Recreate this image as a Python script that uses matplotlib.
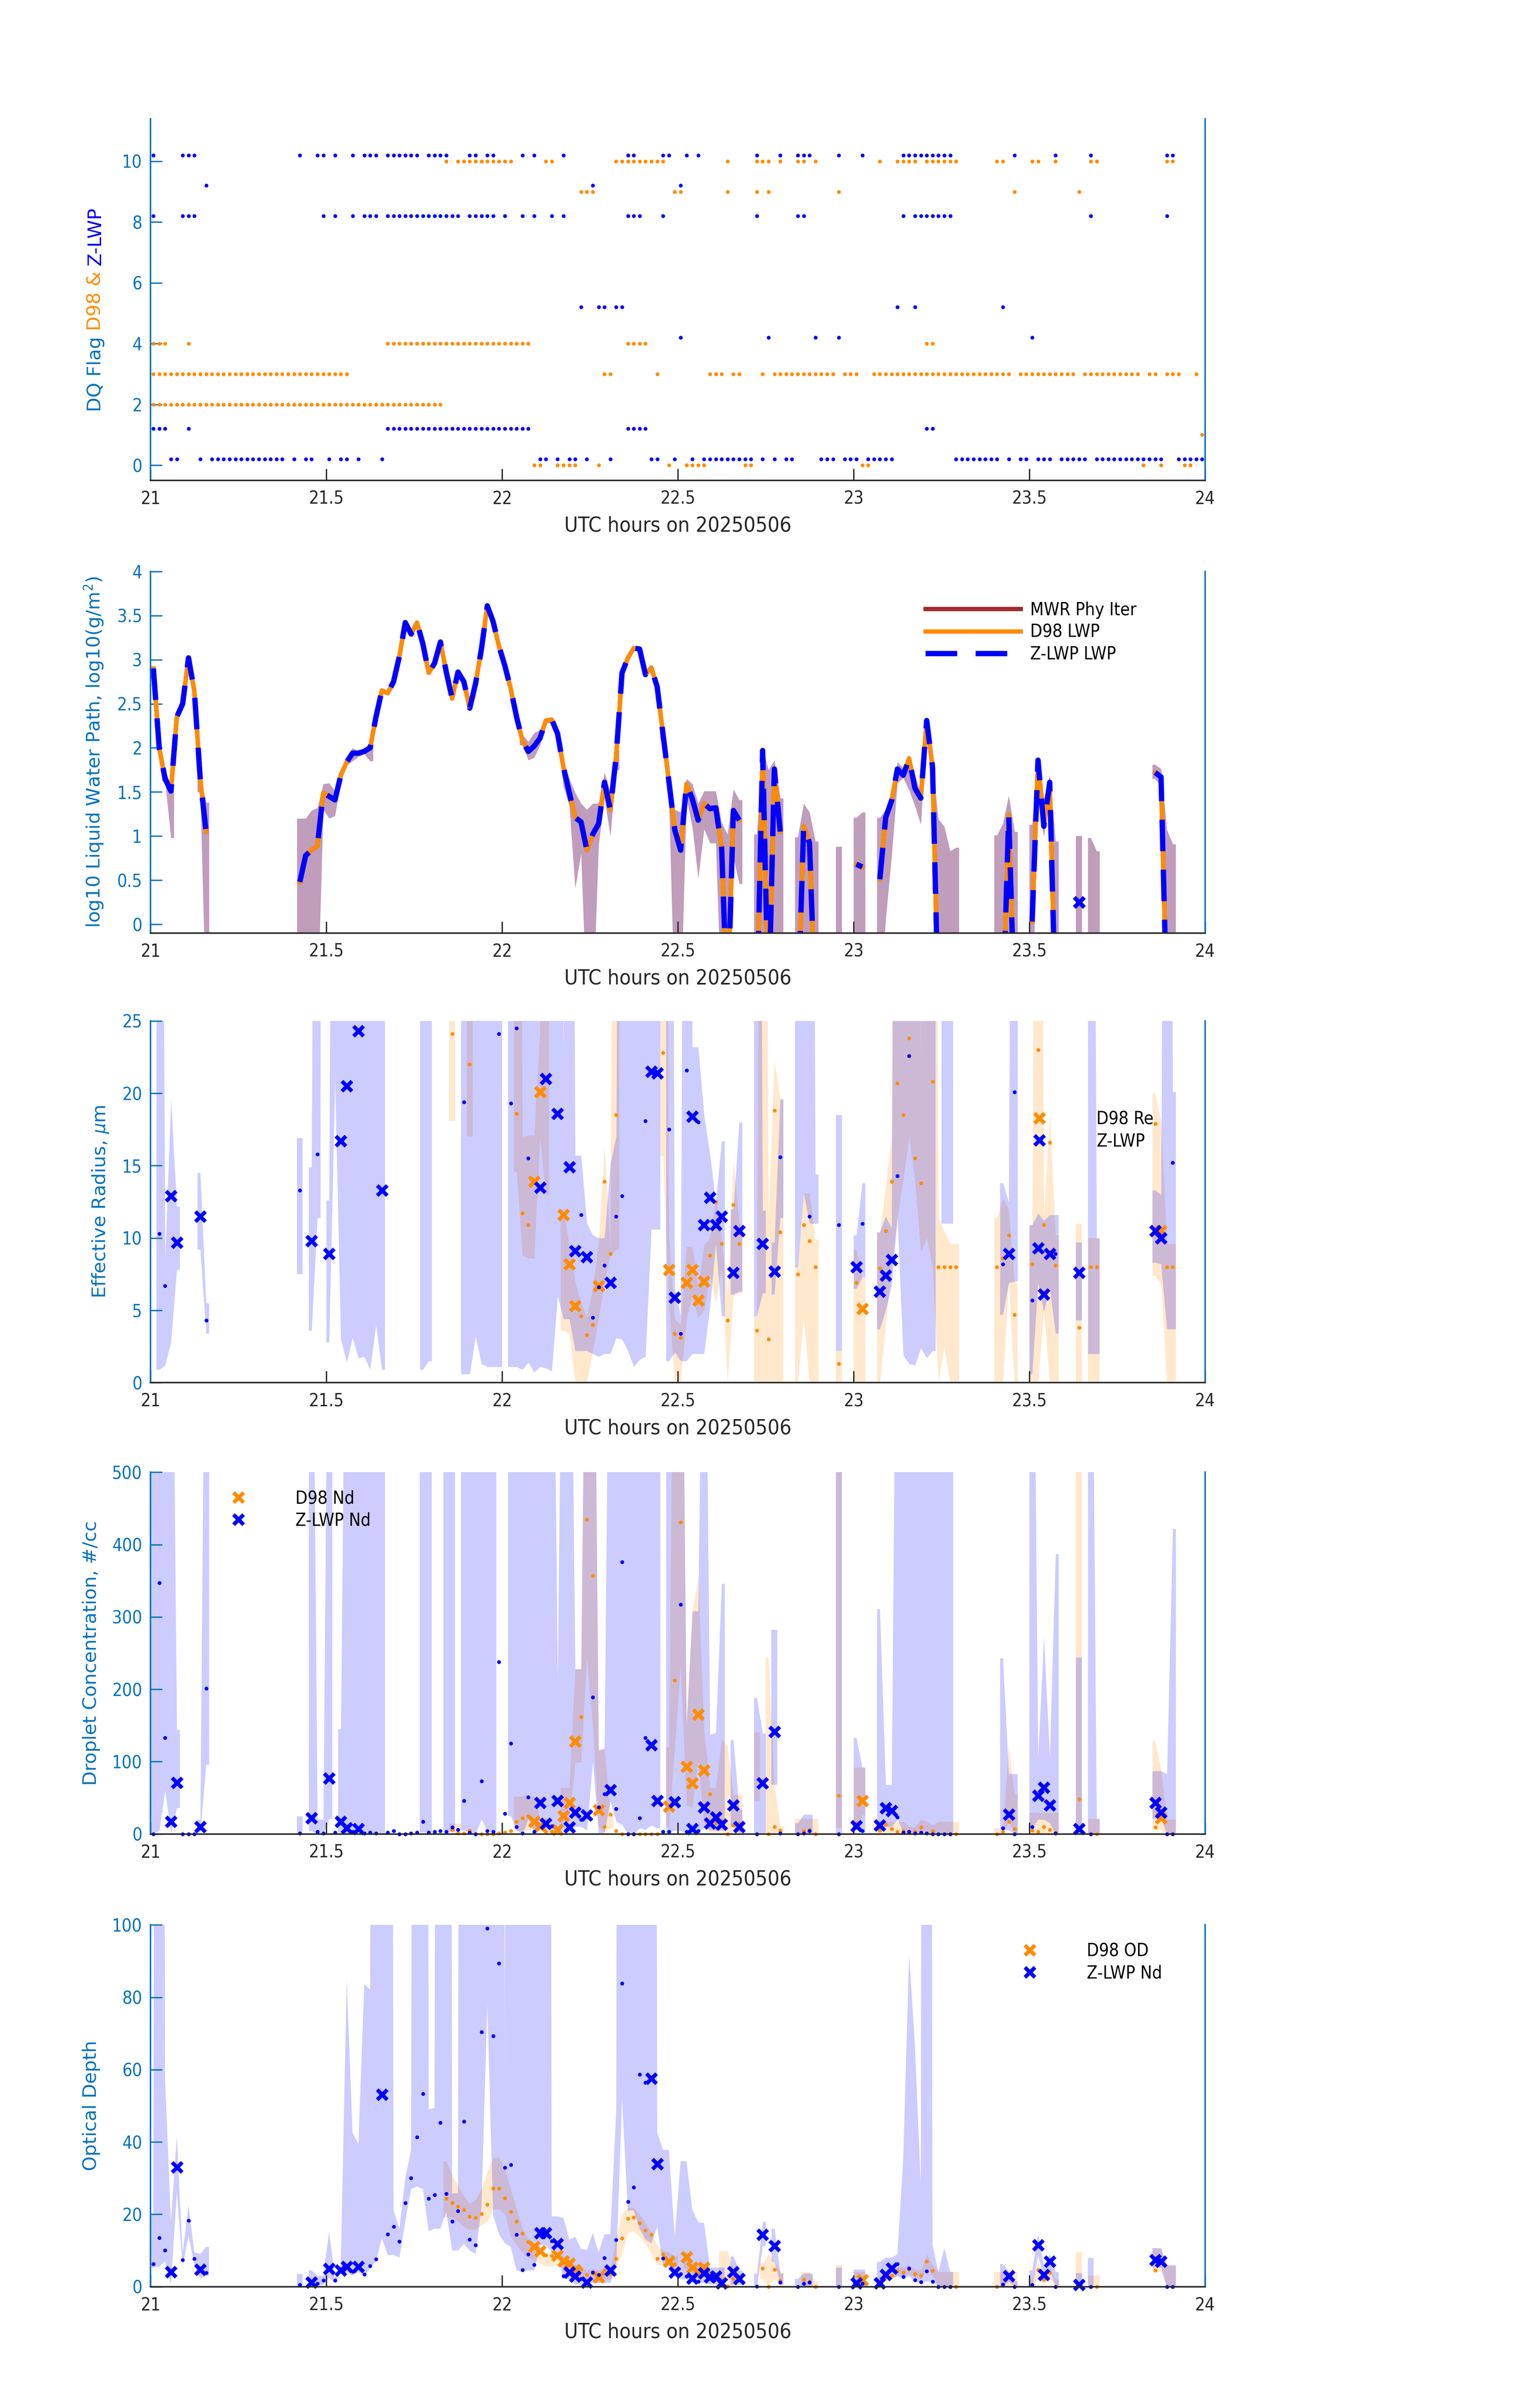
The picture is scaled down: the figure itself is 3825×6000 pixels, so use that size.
import numpy as np
import matplotlib
matplotlib.use("Agg")
import matplotlib.pyplot as plt
from matplotlib import font_manager
from matplotlib.lines import Line2D
from matplotlib.ticker import FuncFormatter

BLUE = "#0000FF"
ORANGE = "#FF8C00"
BROWN = "#A52A2A"
AXBLUE = "#0072BD"
DARK = "#262626"
N = None

# one sample per minute, k = 0..179  ->  21 + (k + 0.5)/60 UTC hours

# DQ flags: minute indices where each flag value is set
d98_flag0 = [65, 66, 69, 70, 71, 72, 76, 88, 91, 92, 93, 94, 101, 102, 121, 122, 169, 172, 176, 177]
d98_flag1 = [179]
d98_flag2 = [*range(0, 50)]
d98_flag3 = [*range(0, 34), 77, 78, 86, 95, 96, 97, 99, 100, 104, *range(106, 117), 118, 119, 120,
             *range(123, 147), *range(148, 158), *range(159, 169), 170, 171, 173, 174, 175, 178]
d98_flag4 = [0, 1, 2, 6, *range(40, 65), 81, 82, 83, 84, 132, 133]
d98_flag9 = [73, 74, 75, 89, 90, 98, 103, 105, 117, 147, 158]
d98_flag10 = [50, *range(52, 62), 67, 68, *range(79, 88), 98, 103, 104, 105, 107, 110, 111, 113, 124,
              127, 128, 129, 130, *range(132, 138), 144, 145, 150, 151, 154, 160, 161, 173, 174]

zlwp_flag0 = [3, 4, 8, *range(10, 23), 24, 26, 27, 30, 32, 33, 35, 39, 66, 67, 69, 71, 72, 74, 78, 85,
              86, 89, 92, *range(94, 103), 104, 106, 108, 109, 114, 115, 116, 118, 119, 120,
              *range(122, 127), *range(137, 145), 146, 148, 149, 151, 152, 153, *range(155, 160),
              *range(161, 173), *range(175, 180)]
zlwp_flag1 = [0, 1, 2, 6, *range(40, 65), 81, 82, 83, 84, 132, 133]
zlwp_flag4 = [90, 105, 113, 117, 150]
zlwp_flag5 = [73, 76, 77, 79, 80, 127, 130, 145]
zlwp_flag8 = [0, 5, 6, 7, 29, 31, 34, 36, 37, 38, *range(40, 53), 54, 55, 56, 57, 58, 60, 63, 65, 68,
              70, 81, 82, 83, 87, 103, 110, 111, 128, *range(130, 137), 160, 173]
zlwp_flag9 = [9, 75, 90]
zlwp_flag10 = [0, 5, 6, 7, 25, 28, 29, 31, 34, 36, 37, 38, *range(40, 46), 47, 48, 49, 50, 54, 55, 57,
               58, 63, 65, 70, 81, 82, 87, 88, 91, 93, 103, 107, 110, 111, 112, 117, 121,
               *range(128, 137), 147, 154, 160, 173, 174]

# log10 LWP: (minute, value, band low, band high)
lwp = [
    (0, 2.90, N, N), (1, 2.00, N, N), (2, 1.65, 1.62, 1.75), (3, 1.51, 0.98, 1.58),
    (4, 2.35, N, N), (5, 2.50, N, N), (6, 3.02, N, N), (7, 2.64, N, N),
    (8, 1.65, 1.50, 1.68), (9, 1.05, -1, 1.38),
    (25, 0.48, -1, 1.20), (26, 0.78, -1, 1.20), (27, 0.84, -1, 1.29), (28, 0.89, -1, 1.32),
    (29, 1.49, 1.30, 1.59), (30, 1.45, 1.20, 1.60), (31, 1.41, 1.23, 1.51), (32, 1.69, 1.62, 1.72),
    (33, 1.84, 1.80, 1.90), (34, 1.94, 1.85, 2.00), (35, 1.94, 1.90, 1.96), (36, 1.96, 1.93, 1.98),
    (37, 2.00, 1.85, 2.07), (38, 2.35, N, N), (39, 2.65, N, N), (40, 2.62, N, N),
    (41, 2.75, N, N), (42, 3.04, N, N), (43, 3.42, N, N), (44, 3.29, N, N), (45, 3.42, N, N),
    (46, 3.18, N, N), (47, 2.85, N, N), (48, 2.96, N, N), (49, 3.20, N, N), (50, 2.86, N, N),
    (51, 2.56, N, N), (52, 2.86, N, N), (53, 2.75, N, N), (54, 2.45, N, N), (55, 2.73, N, N),
    (56, 3.12, N, N), (57, 3.61, N, N), (58, 3.43, N, N), (59, 3.15, N, N), (60, 2.93, N, N),
    (61, 2.67, N, N), (62, 2.35, N, N), (63, 2.08, 2.03, 2.15), (64, 1.96, 1.86, 2.07),
    (65, 2.02, 1.89, 2.17), (66, 2.11, 2.03, 2.20), (67, 2.31, 2.28, 2.34), (68, 2.32, 2.28, 2.34),
    (69, 2.16, 2.10, 2.20), (70, 1.78, 1.56, 1.84), (71, 1.49, 1.34, 1.65), (72, 1.21, 0.41, 1.49),
    (73, 1.16, 0.80, 1.37), (74, 0.84, -1, 1.30), (75, 1.02, -1, 1.37), (76, 1.14, 0.90, 1.37),
    (77, 1.61, 1.43, 1.72), (78, 1.30, 1.00, 1.50), (79, 1.91, 1.75, 1.97), (80, 2.85, N, N),
    (81, 3.02, N, N), (82, 3.13, N, N), (83, 3.12, N, N), (84, 2.83, N, N),
    (85, 2.91, N, N), (86, 2.69, N, N), (87, 2.15, 2.10, 2.20), (88, 1.62, 1.40, 1.68),
    (89, 1.07, -1, 1.30), (90, 0.84, -1, 1.27), (91, 1.59, 1.43, 1.65), (92, 1.42, 1.10, 1.59),
    (93, 1.18, 0.52, 1.37), (94, 1.37, 1.08, 1.51), (95, 1.31, 0.92, 1.51), (96, 1.32, 0.92, 1.51),
    (97, 0.87, -1, 1.15), (98, -1, -1, 1.02), (99, 1.29, 0.76, 1.53), (100, 1.18, 0.46, 1.41),
    (103, -1, -1, 1.02), (104, 1.97, -1, 2.00), (105, -1, -1, 1.75), (106, 1.76, -1, 1.86),
    (107, 1.05, -1, 1.43), (110, -1, -1, 0.99), (111, 1.11, -1, 1.37), (112, 0.92, -1, 1.27),
    (113, -1, -1, 0.94), (117, N, -1, 0.88), (120, 0.68, -1, 1.21), (121, 0.65, -1, 1.27),
    (124, 0.51, -1, 1.21), (125, 1.21, 0.06, 1.30), (126, 1.40, 0.76, 1.46), (127, 1.76, 1.60, 1.84),
    (128, 1.69, 1.66, 1.77), (129, 1.88, 1.52, 1.92), (130, 1.54, 1.34, 1.69), (131, 1.43, 1.13, 1.49),
    (132, 2.31, 2.23, 2.33), (133, 1.78, 1.59, 1.80), (134, -1, -1, 1.19), (135, N, -1, 1.11),
    (136, N, -1, 0.83), (137, N, -1, 0.87), (144, N, -1, 1.01), (145, -1, -1, 1.14),
    (146, 1.24, -1, 1.46), (147, -1, -1, 1.05), (150, 0.03, -1, 1.13), (151, 1.86, 1.40, 1.91),
    (152, 1.11, 0.99, 1.43), (153, 1.61, 1.50, 1.69), (154, -1, -1, 0.94), (158, 0.25, -1, 1.00),
    (160, N, -1, 0.98), (161, N, -1, 0.83), (171, 1.72, 1.65, 1.81), (172, 1.67, 1.56, 1.76),
    (173, -1, -1, 1.07), (174, N, -1, 0.91),
]

# effective radius (um): (minute, value, band low, band high)
re_z = [
    (1, 10.3, 0.9, 99), (2, 6.7, 1.2, 8.5), (3, 12.9, 2.8, 19.6), (4, 9.7, 7.8, 12.2),
    (8, 11.5, 9.2, 14.5), (9, 4.3, 3.4, 5.5),
    (25, 13.3, 7.5, 16.9), (27, 9.8, 3.6, 14.9), (28, 15.8, 11.4, 99),
    (30, 8.9, 2.8, 12.6), (31, N, 20.9, 99), (32, 16.7, 3.0, 99), (33, 20.5, 1.4, 99),
    (34, N, 3.1, 99), (35, 24.3, 1.7, 99), (36, N, 1.8, 99), (37, N, 0.9, 99),
    (38, N, 4.0, 99), (39, 13.3, 0.9, 99), (46, N, 0.9, 99), (47, N, 1.5, 99),
    (53, 19.4, 0.6, 99), (54, N, 0.6, 99), (55, N, 3.2, 99), (56, N, 1.3, 99),
    (57, N, 1.1, 99), (58, N, 1.1, 99), (59, 24.1, 1.1, 99),
    (61, 19.3, 1.1, 99), (62, 24.5, 1.1, 99), (63, N, 0.9, 99), (64, 15.5, 1.4, 99),
    (65, N, 0.7, 99), (66, 13.5, 1.1, 99), (67, 21.0, 1.0, 99), (68, N, 0.8, 99),
    (69, 18.6, 6.0, 99), (70, N, 4.4, 22.8), (71, 14.9, 4.4, 99), (72, 9.1, 2.2, 15.7),
    (73, 11.6, 2.2, 15.7), (74, 8.7, 2.2, 11.0), (75, 4.5, 2.0, 10.2), (76, 6.6, 1.8, 10.0),
    (77, 8.1, 2.0, 10.0), (78, 6.9, 2.0, 15.1), (79, 11.5, 3.1, 17.0), (80, 12.9, 3.0, 99),
    (81, N, 2.2, 99), (82, N, 1.1, 99), (83, N, 1.6, 99), (84, 18.1, 1.8, 99),
    (85, 21.5, 10.6, 99), (86, 21.4, 10.6, 99), (88, 17.5, 1.5, 99), (89, 5.9, 2.1, 6.5),
    (90, 3.4, 1.5, 4.6), (91, 21.6, 1.5, 99), (92, 18.4, 2.0, 23.2), (93, 18.0, 2.0, 23.2),
    (94, 10.9, 2.0, 18.5), (95, 12.8, 5.2, 15.8), (96, 10.9, 9.6, 12.5), (97, 11.5, 4.6, 16.7),
    (99, 7.6, 6.1, 12.0), (100, 10.5, 6.3, 18.0),
    (103, N, 4.6, 99), (104, 9.6, 6.2, 11.9), (106, 7.7, 6.1, 9.7), (107, 15.6, 11.4, 19.6),
    (110, N, 8.0, 99), (111, N, 13.1, 99), (112, 11.5, 11.0, 99), (113, N, 11.0, 14.4),
    (117, 10.9, 2.2, 18.5), (120, 8.0, 6.5, 10.2), (121, 11.0, 7.3, 13.8),
    (124, 6.3, 3.7, 10.4), (125, 7.4, 5.0, 11.5), (126, 8.5, 6.7, 10.7), (127, 14.3, 11.4, 99),
    (128, N, 1.9, 99), (129, 22.6, 1.3, 99), (130, N, 1.2, 99), (131, N, 2.4, 99),
    (132, N, 1.7, 99), (133, N, 2.2, 99), (135, N, 11.0, 99), (136, N, 11.0, 99),
    (145, 8.2, 4.7, 13.8), (146, 8.9, 6.9, 12.5), (147, 20.1, 7.0, 99),
    (150, 5.7, 0.6, 10.9), (151, 9.3, 6.9, 11.7), (152, 6.1, 4.9, 11.2), (153, 8.9, 6.5, 11.6),
    (154, 8.9, 3.4, 11.6), (158, 7.6, 4.3, 9.7), (160, N, 2.0, 99), (161, N, 2.0, 10.0),
    (171, 10.5, 8.3, 13.3), (172, 10.0, 8.2, 13.0), (173, N, 3.7, 99), (174, 15.2, 3.7, 20.1),
]
re_d = [
    (51, 24.1, 18.1, 99), (54, 22.0, 17.0, 99), (62, 18.6, 14.6, 99), (63, 11.7, 8.8, 17.0),
    (64, 10.9, 8.6, 17.1), (65, 13.9, 8.6, 17.1), (66, 20.1, 17.0, 24.3), (67, N, 13.0, 99),
    (70, 11.6, 3.6, 12.0), (71, 8.2, 3.4, 9.5), (72, 5.3, 0.1, 7.0), (73, 4.6, 0.0, 5.5),
    (74, 3.3, 0.0, 4.5), (75, 4.0, 2.2, 6.5), (76, 6.7, 4.4, 9.7), (77, 13.9, 7.0, 16.3),
    (78, 8.9, 8.8, 9.4), (79, 18.5, 9.2, 99), (87, 22.8, 15.7, 99), (88, 7.8, 5.4, 10.2),
    (89, 3.4, 0.0, 4.4), (90, 3.1, 0.0, 4.0), (91, 6.9, 4.4, 9.4), (92, 7.8, 6.0, 9.4),
    (93, 5.7, 4.5, 6.5), (94, 7.0, 5.0, 9.5), (95, 8.8, 7.5, 10.0), (96, 12.5, 5.5, 12.8),
    (97, 9.6, 8.0, 10.0), (98, 4.3, 0.0, 6.0), (99, 12.3, 6.0, 15.4), (100, 9.6, 6.2, 11.0),
    (103, 3.6, 0.1, 4.6), (104, N, 0.0, 99), (105, 3.0, 0.0, 11.4), (106, 18.8, 0.0, 22.2),
    (107, 10.4, 0.0, 19.6), (110, 7.5, 0.0, 8.1), (111, 10.9, 4.5, 13.1), (112, 9.8, 0.0, 13.1),
    (113, 8.0, 0.0, 9.9), (117, 1.3, 0.0, 2.2), (120, 6.9, 0.0, 9.2), (121, 5.1, 0.0, 7.3),
    (124, 7.9, 0.0, 10.4), (125, 10.5, 4.0, 13.5), (126, 13.9, 8.0, 17.0), (127, 20.7, 11.4, 99),
    (128, 18.5, 14.0, 99), (129, 23.8, 17.0, 99), (130, 15.5, 14.0, 99), (131, 13.8, 9.0, 22.0),
    (132, N, 10.0, 99), (133, 20.8, 8.0, 99), (134, 8.0, 0.0, 11.4), (135, 8.0, 2.5, 10.5),
    (136, 8.0, 0.0, 9.6), (137, 8.0, 0.0, 9.6), (144, 8.0, 0.0, 11.4), (145, 8.6, 0.0, 12.7),
    (146, 10.2, 6.9, 12.0), (147, 4.7, 0.0, 6.9), (150, 8.2, 0.0, 10.9), (151, 23.0, 0.0, 99),
    (152, 10.9, 5.0, 11.5), (153, 16.6, 0.0, 18.7), (154, 8.1, 0.0, 10.2), (158, 3.8, 0.0, 11.0),
    (160, 8.0, 0.0, 10.0), (161, 8.0, 0.0, 10.0), (171, 17.9, 7.4, 20.0), (172, 10.5, 6.8, 18.1),
    (173, 8.0, 0.0, 9.6), (174, 8.0, 0.0, 9.6),
]

# droplet concentration (#/cc)
nd_z = [
    (0, 0, 0, 999), (1, 347, 5, 999), (2, 133, 60, 999), (3, 17, 0, 999), (4, 71, 36, 144),
    (5, 0, N, N), (6, 0, N, N), (7, 0, N, N), (8, 10, 2, 20), (9, 201, 96, 999),
    (25, 1, 0, 24), (27, 22, 4, 999), (28, 3, 0, 20), (29, 1, 0, 20), (30, 77, 21, 999),
    (31, 2, N, N), (32, 17, 2, 145), (33, 8, 1, 999), (34, 3, 1, 999), (35, 7, 1, 999),
    (36, 1, 0, 999), (37, 2, 0, 999), (38, 1, 0, 999), (39, N, 0, 999),
    (40, 2, N, N), (41, 4, N, N), (42, 0, N, N), (43, 0, N, N), (44, 1, N, N), (45, 2, N, N),
    (46, 17, 2, 999), (47, 2, 2, 999), (48, 3, N, N), (49, 4, N, N), (50, 3, 3, 999),
    (51, 9, 3, 999), (52, 6, N, N), (53, 46, 5, 999), (54, 2, 2, 999), (55, 0, 0, 999),
    (56, 73, 20, 999), (57, 4, 4, 999), (58, 3, 3, 999), (59, 238, N, N), (60, 28, N, N),
    (61, 125, 25, 999), (62, 10, 5, 999), (63, 1, 0, 999), (64, 51, 20, 999), (65, 3, 3, 999),
    (66, 43, 8, 999), (67, 14, 8, 999), (68, 11, 2, 999), (69, 46, 5, 207), (70, N, 5, 999),
    (71, 9, 4, 999), (72, 30, 10, 228), (73, 20, 10, 228), (74, 26, 5, 999), (75, 189, 100, 999),
    (76, 37, 0, 115), (77, 55, 2, 118), (78, 61, 45, 999), (79, 35, 17, 999), (80, 376, 13, 999),
    (81, 0, 0, 999), (82, 0, 0, 999), (83, 22, 8, 999), (84, 133, 6, 999), (85, 123, 12, 999),
    (86, 46, 8, 999), (87, 3, N, N), (88, 3, 2, 999), (89, 44, 5, 999), (90, 317, 4, 999),
    (91, 3, 2, 151), (92, 7, 2, 308), (93, 4, 2, 308), (94, 37, 10, 999), (95, 15, 5, 137),
    (96, 23, 5, 140), (97, 13, 5, 346), (99, 40, 10, 130), (100, 10, 2, 34),
    (103, 0, 0, 188), (104, 70, 0, 139), (106, 141, 68, 282), (107, 1, N, N),
    (110, 0, 0, 15), (111, 1, 0, 27), (112, 4, 0, 27), (117, 0, 0, 999),
    (120, 11, 6, 133), (121, 4, 2, 92), (124, 12, 5, 311), (125, 36, 10, 68), (126, 32, 10, 68),
    (127, 23, 20, 999), (128, 2, 2, 999), (129, 3, 2, 999), (130, 1, 1, 999), (131, 2, 2, 999),
    (132, 1, 1, 999), (133, 0, 0, 999), (134, 0, 0, 999), (135, 0, 0, 999), (136, 0, 0, 999),
    (145, 8, 6, 243), (146, 27, 5, 83), (147, 0, 0, 83),
    (150, 10, 8, 999), (151, 53, 20, 106), (152, 64, 20, 273), (153, 40, 15, 106), (154, 1, 0, 387),
    (158, 7, 0, 244), (160, 0, 0, 999), (161, N, 0, 21),
    (171, 43, 21, 87), (172, 30, 21, 87), (173, 0, 0, 83), (174, 0, 0, 422),
]
nd_d = [
    (51, 6, 0, 14), (52, 1, 0, 14), (53, 1, N, N), (54, 5, N, N), (55, 0, N, N), (56, 0, N, N),
    (57, 0, N, N), (58, 0, N, N), (59, 1, N, N), (60, 2, N, N), (61, 4, N, N),
    (62, 17, 4, 52), (63, 22, 5, 52), (64, 25, 5, 52), (65, 17, 4, 52), (66, 11, 4, 21),
    (67, 3, 2, 21), (68, 3, N, N), (69, 6, N, N), (70, 25, 13, 64), (71, 43, 20, 64),
    (72, 128, 99, 228), (73, 162, 99, 228), (74, 435, 244, 999), (75, 357, 149, 999),
    (76, 33, 10, 118), (77, 10, 2, 118), (78, 27, 8, 30), (79, 4, N, N),
    (80, 0, N, N), (81, 0, N, N), (82, 0, N, N), (83, 0, N, N), (84, 0, N, N), (85, 0, N, N),
    (86, 0, N, N), (87, 3, N, N), (88, 38, 10, 120), (89, 212, 120, 999), (90, 431, 234, 999),
    (91, 93, 40, 151), (92, 70, 37, 308), (93, 165, 103, 354), (94, 88, 14, 145),
    (95, 55, 2, 64), (96, 15, 2, 64), (97, 18, 2, 130), (98, 0, 0, 122), (99, 12, 2, 54),
    (100, 14, 2, 54), (103, N, 45, 140), (105, 0, 0, 244), (106, 10, 0, 68), (107, 5, 0, 10),
    (110, N, 0, 21), (111, 4, 0, 21), (112, 6, 0, 21), (113, 0, 0, 21), (117, 53, 8, 999),
    (120, 15, 0, 92), (121, 46, 26, 92), (124, 5, 0, 17), (125, 13, 0, 17), (126, 7, 0, 17),
    (127, 3, 0, 17), (128, 4, 0, 17), (129, 2, 0, 10), (130, 3, 0, 10), (131, 9, 0, 20),
    (132, N, 0, 17), (133, 4, 0, 12), (134, 0, 0, 17), (135, 0, 0, 17), (136, 0, 0, 17),
    (137, 0, 0, 17), (144, 0, 0, 8), (145, 3, 0, 8), (146, 17, 17, 122), (147, 7, 0, 54),
    (150, 5, 0, 29), (151, 3, 0, 29), (152, 10, 0, 29), (153, 6, 0, 29), (154, 2, 0, 29),
    (158, 48, 0, 999), (160, 0, 0, 21), (161, 0, 0, 21),
    (171, 9, 6, 128), (172, 22, 6, 89), (173, 0, 0, 20), (174, 0, 0, 20),
]

# optical depth
od_z = [
    (0, 6.3, 5.3, 20), (1, 13.5, 5.5, 999), (2, 10.1, 7.0, 57.5), (3, 4.1, 0.5, 17.7),
    (4, 33.0, 26, 41.5), (5, 7.4, 5.8, 9.4), (6, 18.3, 14, 22.5), (7, 7.7, 6, 9.5),
    (8, 4.7, 2.2, 9.0), (9, 3.8, 3.0, 11.0),
    (25, 0.5, 0, 3.5), (27, 1.2, 0, 4.5), (28, 0.8, 0.5, 3.0), (29, 1.7, 0.5, 3.0),
    (30, 5.0, 2.5, 15.2), (31, 1.7, 1.0, 2.5), (32, 4.5, 4.0, 6.0), (33, 5.5, 4.0, 84.8),
    (34, 4.2, 3.0, 42.6), (35, 5.5, 4.0, 39.5), (36, 3.4, 3.0, 83.7), (37, 5.7, 5.0, 82.1),
    (38, 7.6, 7.0, 999), (39, 53.1, 13.4, 999), (40, 14.5, 8.7, 999), (41, 16.6, 8.8, 21),
    (42, 12.5, 8.0, 16), (43, 23.1, 18.0, 30.0), (44, 30.0, 27.0, 37.8), (45, 41.3, 27.7, 999),
    (46, 53.3, 27.0, 999), (47, 24.4, 15.3, 49), (48, 25.4, 16.0, 49.4), (49, 45.3, 16.0, 999),
    (50, 25.7, 20.7, 999), (51, 18.0, 10.0, 25.8), (52, 20.9, 10.0, 25.8), (53, 45.7, 11.8, 999),
    (54, 13.1, 10.0, 999), (55, 11.5, 9.0, 999), (56, 70.4, 21.7, 999), (57, 99.1, 78.0, 999),
    (58, 69.3, 19.8, 999), (59, 89.4, 14.5, 999), (60, 32.9, 12.0, 59), (61, 33.7, 11.0, 999),
    (62, 14.4, 4.5, 999), (63, 4.6, 4.1, 999), (64, 8.9, 4.5, 999), (65, 6.1, 4.5, 999),
    (66, 14.8, 11.5, 999), (67, 14.8, 11.5, 999), (68, 12.6, 9.5, 19.4), (69, 11.8, 9.5, 19.4),
    (70, 2.9, 2.1, 19.0), (71, 3.9, 2.1, 13.0), (72, 2.8, 0.6, 13.8), (73, 2.2, 0.6, 10.5),
    (74, 1.2, 0.6, 10.1), (75, 3.9, 1.0, 14.8), (76, 3.3, 1.0, 9.5), (77, 8.0, 1.0, 14.5),
    (78, 4.5, 1.0, 14.5), (79, 12.9, 5.3, 48.2), (80, 83.8, 52.0, 999), (81, 23.5, 21.0, 999),
    (82, 27.5, 21.0, 999), (83, 58.6, 16.0, 999), (84, 56.4, 13.0, 999), (85, 57.5, 12.0, 999),
    (86, 33.9, 16.5, 42.6), (87, 7.8, 6.0, 37.8), (88, N, 6.0, 37.8), (89, 3.9, 3.7, 13.8),
    (90, 3.5, 2.0, 34.7), (91, 2.8, 2.0, 34.7), (92, 2.3, 1.0, 21.3), (93, 1.4, 1.0, 17.8),
    (94, 3.7, 1.0, 17.6), (95, 2.6, 0.6, 5.3), (96, 2.8, 0.6, 5.3), (97, 1.0, 0.6, 5.3),
    (99, 4.1, 0.6, 8.4), (100, 2.2, 0.6, 4.5), (103, 0.1, 0.0, 3.6), (104, 14.4, 11.3, 18.0),
    (106, 11.3, 7.0, 16.1), (107, 1.2, 0.6, 3.7), (110, 0.0, 0.0, 2.2), (111, 0.8, 0.0, 3.7),
    (112, 1.2, 0.0, 3.7), (117, 0.0, 0.0, 5.3), (120, 1.0, 0.2, 4.7), (121, 0.8, 0.2, 4.7),
    (124, 1.0, 0.5, 6.8), (125, 3.3, 2.1, 8.0), (126, 5.1, 2.1, 8.0), (127, 6.3, 2.9, 9.0),
    (128, 2.7, 2.1, 35.4), (129, 5.1, 2.9, 92.0), (130, 1.8, 1.4, 66.4), (131, 1.3, 1.0, 27.7),
    (132, 4.3, 1.4, 999), (133, 1.4, 1.4, 11.5), (134, 0.0, 0.0, 4.1), (135, 0.0, 0.0, 10.7),
    (136, 0.0, 0.0, 4.1), (145, 0.6, 0.0, 6.3), (146, 2.9, 1.4, 4.1), (147, 0.0, 0.0, 1.5),
    (150, 0.5, 0.0, 4.6), (151, 11.5, 8.7, 14.6), (152, 3.3, 1.8, 5.3), (153, 7.0, 4.6, 9.1),
    (154, 0.0, 0.0, 4.1), (158, 0.5, 0.0, 3.7), (160, 0.0, 0.0, 8.0),
    (171, 7.4, 5.3, 10.7), (172, 7.0, 5.3, 10.7), (173, 0.0, 0.0, 5.9), (174, 0.0, 0.0, 5.9),
]
od_d = [
    (50, 24.4, 19.2, 34.7), (51, 23.1, 19.2, 30.8), (52, 22.1, 18.0, 28.0), (53, 21.3, 16.5, 25.0),
    (54, 19.4, 15.7, 23.0), (55, 19.0, 15.9, 24.0), (56, 20.2, 17.0, 27.0), (57, 22.7, 18.0, 31.6),
    (58, 27.1, 21.4, 35.7), (59, 27.1, 21.4, 35.7), (60, 24.5, 20.0, 32.4), (61, 20.7, 13.8, 27.0),
    (62, 18.0, 11.5, 21.5), (63, 14.7, 9.5, 16.0), (64, 12.4, 8.0, 13.4), (65, 11.1, 7.2, 12.0),
    (66, 9.8, 6.4, 11.0), (67, 8.7, 5.6, 9.3), (68, 8.5, 5.6, 9.3), (69, 8.6, 6.0, 9.5),
    (70, 7.1, 4.8, 8.5), (71, 6.4, 4.0, 7.5), (72, 4.6, 2.7, 6.0), (73, 4.8, 2.5, 5.5),
    (74, 3.3, 1.5, 4.5), (75, 3.7, 1.5, 5.0), (76, 2.6, 1.0, 4.5), (77, 4.5, 2.0, 5.5),
    (78, 3.5, 2.0, 5.0), (79, 7.7, 5.3, 13.8), (80, 13.4, 9.0, 20.0), (81, 18.8, 15.0, 21.9),
    (82, 19.2, 15.3, 21.9), (83, 17.6, 13.8, 20.0), (84, 15.6, 11.9, 17.6), (85, 14.4, 9.0, 15.0),
    (86, 7.7, 6.0, 11.5), (87, 8.9, 6.0, 10.0), (88, 7.0, 5.5, 9.5), (89, 6.2, 4.0, 8.5),
    (91, 8.2, 5.0, 9.5), (92, 5.3, 3.5, 7.0), (93, 4.1, 3.0, 6.0), (94, 5.3, 3.0, 6.5),
    (95, 3.1, 1.5, 4.5), (97, 1.8, 0.0, 9.9), (98, 0.1, 0.0, 9.9), (99, 2.2, 0.0, 4.5),
    (104, 5.1, 2.2, 6.5), (105, 0.0, 0.0, 9.0), (106, 4.7, 2.2, 7.0), (107, 1.6, 0.0, 4.1),
    (111, 1.9, 0.0, 4.1), (112, 1.4, 0.0, 4.1), (113, 0.0, 0.0, 1.4), (117, N, 0.0, 6.0),
    (120, 1.0, 0.0, 4.1), (121, 1.8, 0.0, 4.1), (124, 1.0, 0.0, 3.0), (125, 2.7, 1.5, 4.0),
    (126, 3.1, 2.0, 4.5), (127, 4.4, 3.0, 5.5), (128, 4.0, 2.8, 5.3), (129, 4.8, 3.5, 6.0),
    (130, 3.5, 2.5, 4.8), (131, 3.1, 2.0, 4.5), (132, 7.0, 5.0, 9.0), (133, 4.4, 3.0, 6.0),
    (134, 0.0, 0.0, 4.1), (135, 0.0, 0.0, 4.1), (136, 0.0, 0.0, 4.1), (137, 0.0, 0.0, 4.1),
    (144, 0.0, 0.0, 4.1), (145, 0.6, 0.0, 4.1), (146, 3.0, 0.0, 4.1), (147, 0.0, 0.0, 4.1),
    (150, N, 0.0, 2.0), (151, 4.6, 2.1, 6.8), (152, 1.9, 0.5, 3.0), (153, 3.8, 2.5, 5.0),
    (154, 0.0, 0.0, 2.0), (158, N, 0.0, 9.5), (160, 0.0, 0.0, 3.1), (161, 0.0, 0.0, 3.1),
    (171, 4.5, 4.1, 10.7), (172, 7.0, 4.1, 10.3), (173, 0.0, 0.0, 6.0), (174, 0.0, 0.0, 6.0),
]

xticks = [21, 21.5, 22, 22.5, 23, 23.5, 24]
xticklabels = ["21", "21.5", "22", "22.5", "23", "23.5", "24"]
xlabel = "UTC hours on 20250506"


def tm(ks):
    return 21.0 + (np.asarray(ks, dtype=float) + 0.5) / 60.0


# condensed face for ticks / legends (MATLAB look), normal DejaVu for y labels
cond = False
for f in font_manager.fontManager.ttflist:
    if f.name == "DejaVu Sans" and "Condensed" in f.fname:
        cond = True
names = {f.name for f in font_manager.fontManager.ttflist}
if cond:
    plt.rcParams["font.family"] = ["DejaVu Sans"]
    plt.rcParams["font.stretch"] = "condensed"
elif "Liberation Sans Narrow" in names:
    plt.rcParams["font.family"] = ["Liberation Sans Narrow", "DejaVu Sans"]
else:
    plt.rcParams["font.family"] = ["DejaVu Sans"]
plt.rcParams["mathtext.fontset"] = "dejavusans"
LAB = dict(family="DejaVu Sans", stretch="normal", size=11.3)


def style(ax, ylim, yticks):
    ax.set_xlim(21, 24)
    ax.set_ylim(*ylim)
    ax.set_xticks(xticks)
    ax.set_xticklabels(xticklabels)
    ax.set_yticks(yticks)
    ax.yaxis.set_major_formatter(FuncFormatter(lambda v, p: "%g" % v))
    ax.spines["top"].set_visible(False)
    ax.spines["left"].set_color(AXBLUE)
    ax.spines["right"].set_color(AXBLUE)
    ax.spines["bottom"].set_color(DARK)
    for s in ax.spines.values():
        s.set_linewidth(0.9)
    ax.tick_params(axis="x", direction="in", length=7, width=0.8, color=DARK,
                   labelcolor=DARK, labelsize=10.5, pad=6)
    ax.tick_params(axis="y", direction="in", length=7, width=0.8, color=AXBLUE,
                   labelcolor=AXBLUE, labelsize=10.5, pad=5)
    ax.set_xlabel(xlabel, color=DARK, fontsize=12.5, labelpad=5)


def runs(ks):
    out, cur = [], []
    for k in ks:
        if cur and k != cur[-1] + 1:
            out.append(cur)
            cur = []
        cur.append(k)
    if cur:
        out.append(cur)
    return out


def draw_band(ax, rows, color):
    lo = {r[0]: r[2] for r in rows if r[2] is not None}
    hi = {r[0]: r[3] for r in rows if r[3] is not None}
    h = 0.5 / 60.0
    for run in runs(sorted(lo)):
        x = tm(run)
        xs = np.r_[x[0] - h, x, x[-1] + h]
        l = [lo[k] for k in run]
        u = [hi[k] for k in run]
        ax.fill_between(xs, np.r_[l[0], l, l[-1]], np.r_[u[0], u, u[-1]],
                        color=color, alpha=0.2, lw=0)


def draw_marks(ax, rows, good, color):
    ks = np.array([r[0] for r in rows if r[1] is not None])
    vs = np.array([r[1] for r in rows if r[1] is not None], dtype=float)
    g = np.isin(ks, good)
    ax.plot(tm(ks[~g]), vs[~g], ls="none", marker="o", ms=2.3, mew=0, color=color, clip_on=False)
    ax.plot(tm(ks[g]), vs[g], ls="none", marker="x", ms=6, mew=2.3, color=color, clip_on=False)


def add_legend(ax, handles, labels, x, y):
    ax.legend(handles, labels, loc="upper left", bbox_to_anchor=(x, y), frameon=False,
              fontsize=10.5, handlelength=5.4, handletextpad=0.55, labelspacing=0.28,
              borderpad=0, borderaxespad=0)


fig = plt.figure(figsize=(12.75, 20), dpi=300)
bottoms = [0.8005, 0.6125, 0.4258, 0.2384, 0.0504]
axes = [fig.add_axes([0.098, b, 0.687, 0.1502]) for b in bottoms]

# ---- panel 1: DQ flags
ax = axes[0]
d98_rows = [(0, d98_flag0), (1, d98_flag1), (2, d98_flag2), (3, d98_flag3), (4, d98_flag4),
            (9, d98_flag9), (10, d98_flag10)]
z_rows = [(0, zlwp_flag0), (1, zlwp_flag1), (4, zlwp_flag4), (5, zlwp_flag5), (8, zlwp_flag8),
          (9, zlwp_flag9), (10, zlwp_flag10)]
for f, ks in d98_rows:
    ax.plot(tm(ks), np.full(len(ks), f), ls="none", marker="o", ms=2.3, mew=0, color=ORANGE)
for f, ks in z_rows:
    ax.plot(tm(ks), np.full(len(ks), f + 0.2), ls="none", marker="o", ms=2.3, mew=0, color=BLUE)
style(ax, (-0.5, 11.4), [0, 2, 4, 6, 8, 10])
t1 = ax.text(-0.052, 0.19, "DQ Flag ", rotation=90, transform=ax.transAxes, color=AXBLUE,
             ha="center", va="bottom", **LAB)
t2 = ax.annotate("D98 & ", xy=(0.5, 1), xycoords=t1, rotation=90, ha="center", va="bottom",
                 color=ORANGE, **LAB)
ax.annotate("Z-LWP", xy=(0.5, 1), xycoords=t2, rotation=90, ha="center", va="bottom",
            color=BLUE, **LAB)

# ---- panel 2: LWP
ax = axes[1]
full = np.full(180, np.nan)
for k, v, lo, hi in lwp:
    if v is not None:
        full[k] = v
tt = tm(np.arange(180))
draw_band(ax, lwp, BROWN)
ax.plot(tt, full, color=BROWN, lw=2.6)
draw_band(ax, lwp, ORANGE)
ax.plot(tt, full, color=ORANGE, lw=2.6)
draw_band(ax, lwp, BLUE)
ax.plot(tt, full, color=BLUE, lw=3.2, ls=(0, (5.9, 3.45)))
fin = np.isfinite(full)
iso = fin & ~np.r_[False, fin[:-1]] & ~np.r_[fin[1:], False]
ax.plot(tt[iso], full[iso], ls="none", marker="x", ms=6, mew=2.5, color=BLUE)
style(ax, (-0.1, 4), [0, 0.5, 1, 1.5, 2, 2.5, 3, 3.5, 4])
ax.set_ylabel("log10 Liquid Water Path, log10(g/m$^2$)", color=AXBLUE, labelpad=7, **LAB)
add_legend(ax, [Line2D([], [], color=BROWN, lw=2.6), Line2D([], [], color=ORANGE, lw=2.6),
                Line2D([], [], color=BLUE, lw=3.2, ls=(0, (5.9, 3.45)))],
           ["MWR Phy Iter", "D98 LWP", "Z-LWP LWP"], 0.735, 0.917)


def xhandle(c):
    return Line2D([], [], ls="none", marker="x", ms=6, mew=2.3, color=c)


# ---- panels 3-5: retrievals
panels = [
    (axes[2], re_d, re_z, (0, 25), [0, 5, 10, 15, 20, 25], "Effective Radius, $\\mu$m",
     ["D98 Re", "Z-LWP"], (0.798, 0.752)),
    (axes[3], nd_d, nd_z, (0, 500), [0, 100, 200, 300, 400, 500], "Droplet Concentration, #/cc",
     ["D98 Nd", "Z-LWP Nd"], (0.0385, 0.951)),
    (axes[4], od_d, od_z, (0, 100), [0, 20, 40, 60, 80, 100], "Optical Depth",
     ["D98 OD", "Z-LWP Nd"], (0.789, 0.951)),
]
for ax, drows, zrows, ylim, yt, ylab, labs, pos in panels:
    draw_band(ax, drows, ORANGE)
    draw_marks(ax, drows, d98_flag0, ORANGE)
    draw_band(ax, zrows, BLUE)
    draw_marks(ax, zrows, zlwp_flag0, BLUE)
    style(ax, ylim, yt)
    ax.set_ylabel(ylab, color=AXBLUE, labelpad=7, **LAB)
    add_legend(ax, [xhandle(ORANGE), xhandle(BLUE)], labs, *pos)

fig.savefig("out.png", dpi=300)
